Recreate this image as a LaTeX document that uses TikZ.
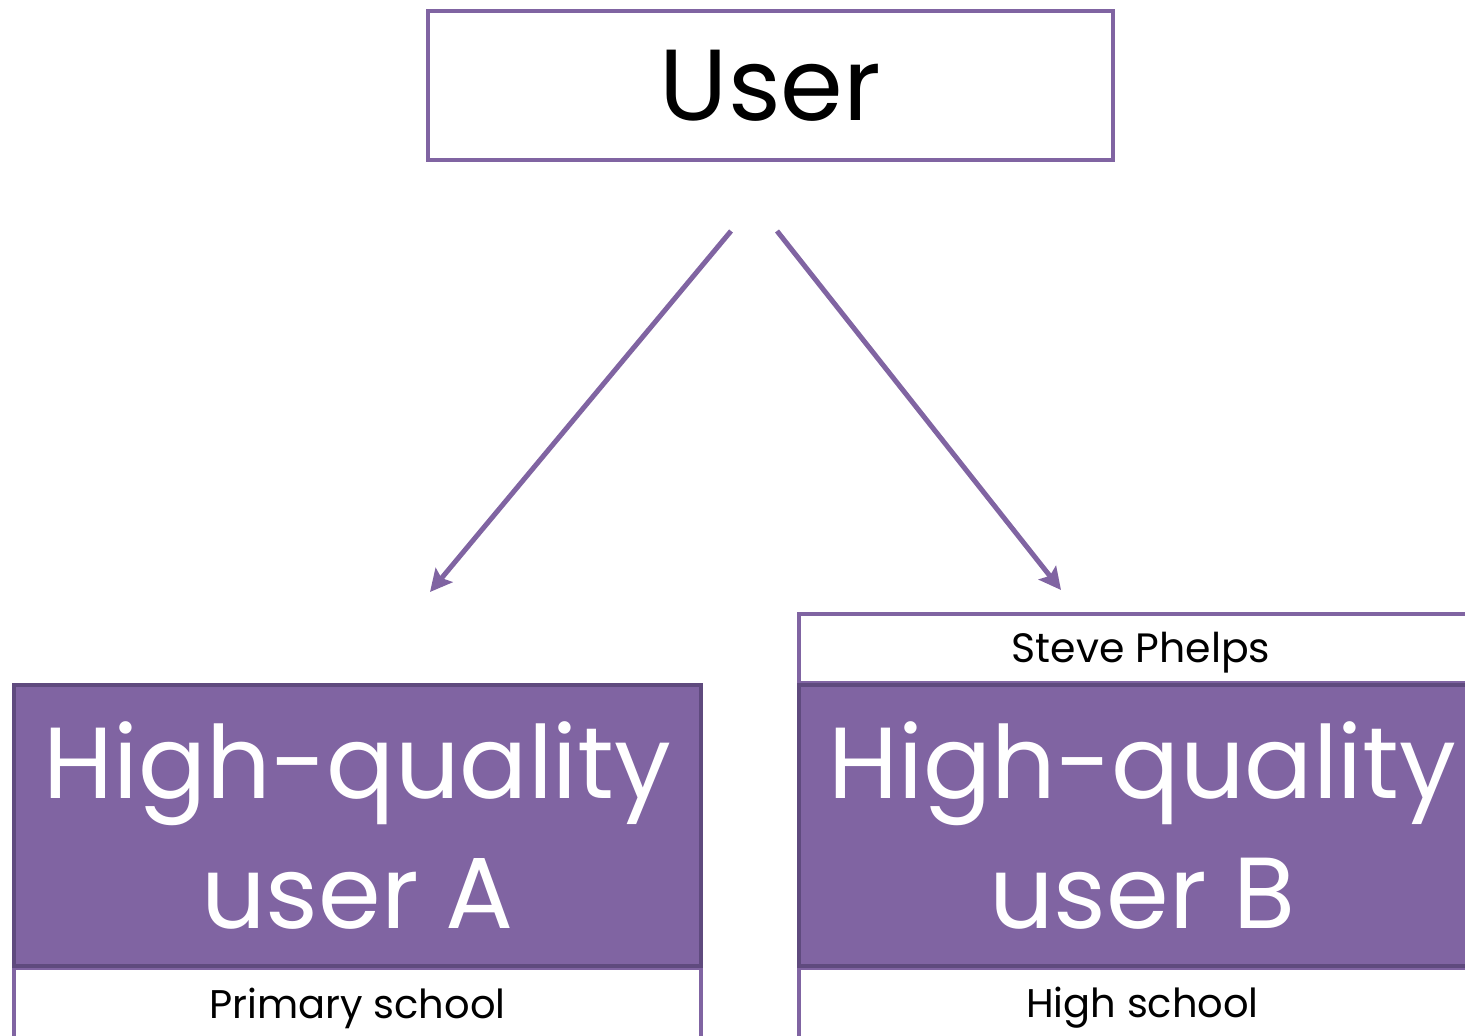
\documentclass[tikz,border=0pt]{standalone}
\usepackage{fontspec}
\setmainfont{Poppins}
\usetikzlibrary{arrows.meta, positioning}
\definecolor{lilac}{HTML}{8064A2}
\definecolor{lilacdark}{HTML}{5F4A7E}

\begin{document}
\begin{tikzpicture}[
      x=0.5pt, y=-0.5pt,
      frame/.style={draw=lilac, line width=2pt, fill=white},
      band/.style={draw=lilacdark, line width=2pt, fill=lilac, text=white,
        align=center, minimum width=343.5pt, minimum height=140.5pt,
        inner sep=0pt, font=\fontsize{50.5}{65}\selectfont},
      tag/.style={font=\fontsize{20}{24}\selectfont},
      link/.style={draw=lilac, line width=2.5pt, -{Stealth[length=11pt, width=11pt, inset=2pt]}},
    ]
    \useasboundingbox (0,0) rectangle (1465,1036);
    \clip (0,0) rectangle (1465,1036);
    % top box
    \node[frame, minimum width=342.5pt, minimum height=74.5pt,
      font=\fontsize{50.5}{65}\selectfont] (user) at (770.5,86) {User};
    % arrows down to the two users
    \coordinate (fromA) at (731,231);
    \coordinate (toA) at (430,592);
    \coordinate (fromB) at (777,231);
    \coordinate (toB) at (1061,590);
    \draw[link] (fromA) -- (toA);
    \draw[link] (fromB) -- (toB);
    % user A
    \draw[frame] (14,968) rectangle (701,1080);
    \node[band] (userA) at (357.5,825.5) {High-quality\\user A};
    \node[tag] (schoolA) at (357.5,1008) {Primary school};
    % user B
    \draw[frame] (799,614) rectangle (1488,683);
    \node[tag, font=\fontsize{20.5}{24}\selectfont] (nameB) at (1141,653) {Steve Phelps};
    \draw[frame] (799,968) rectangle (1488,1080);
    \node[band] (userB) at (1142.5,825.5) {High-quality\\user B};
    \node[tag] (schoolB) at (1142.5,1008) {High school};
  \end{tikzpicture}
\end{document}
